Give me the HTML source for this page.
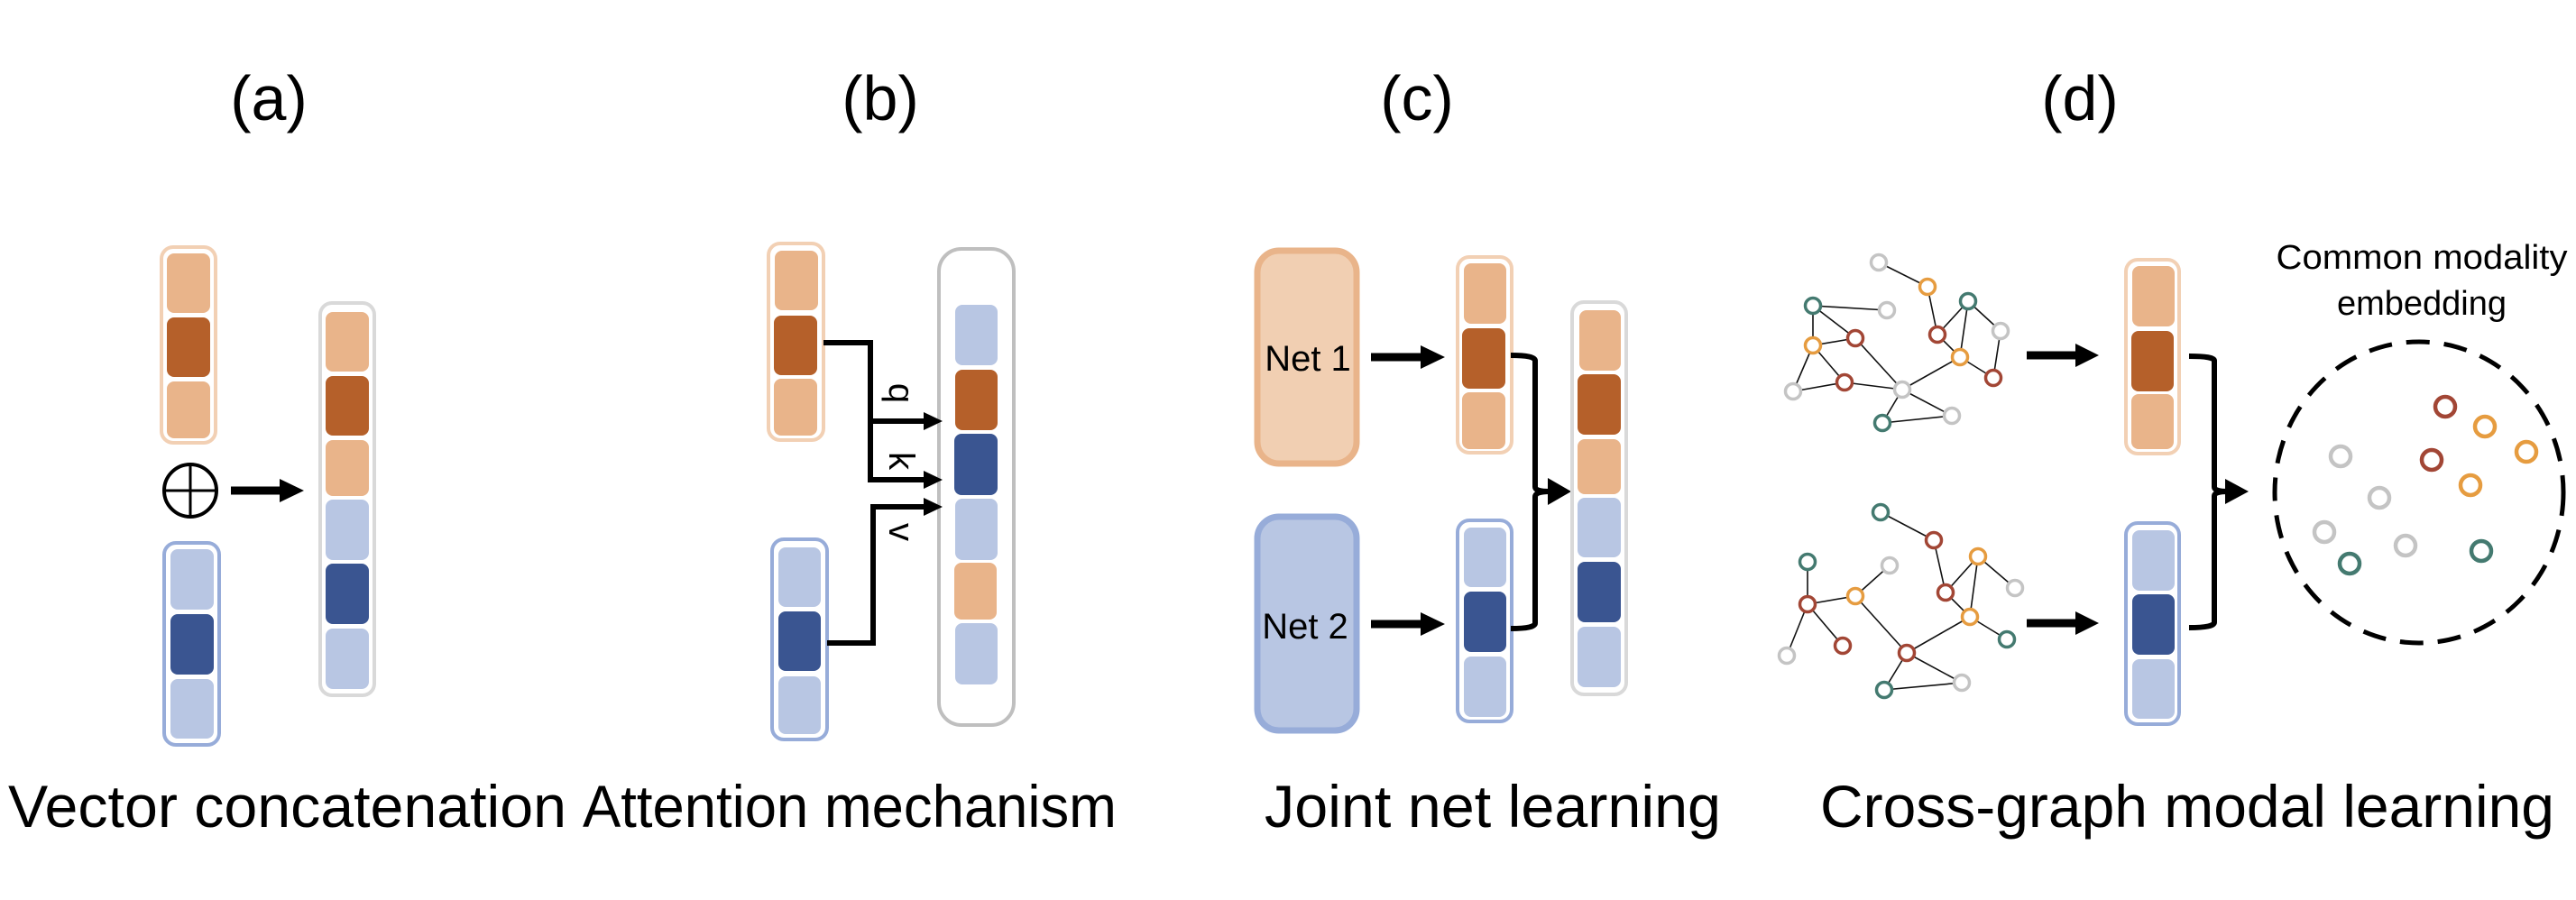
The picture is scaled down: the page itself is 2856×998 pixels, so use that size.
<!DOCTYPE html>
<html><head><meta charset="utf-8"><style>
html,body{margin:0;padding:0;background:#fff;}
svg{display:block;}
text{font-family:"Liberation Sans",sans-serif;}
</style></head><body>
<svg width="2856" height="998" viewBox="0 0 2856 998" xmlns="http://www.w3.org/2000/svg">
<g font-size="70" text-anchor="middle" fill="#000">
<text x="298" y="133">(a)</text>
<text x="976" y="133">(b)</text>
<text x="1571" y="133">(c)</text>
<text x="2306" y="133">(d)</text>
</g>
<g font-size="66" fill="#000">
<text x="9" y="917" textLength="619" lengthAdjust="spacingAndGlyphs">Vector concatenation</text>
<text x="646" y="917" textLength="592" lengthAdjust="spacingAndGlyphs">Attention mechanism</text>
<text x="1402" y="917" textLength="506" lengthAdjust="spacingAndGlyphs">Joint net learning</text>
<text x="2018" y="917" textLength="814" lengthAdjust="spacingAndGlyphs">Cross-graph modal learning</text>
</g>

<!-- (a) -->
<rect x="179" y="274" width="60" height="217" rx="13" fill="#fff" stroke="#f2d0b4" stroke-width="4"/>
<rect x="185" y="281" width="48" height="66" rx="8" fill="#e9b48a"/>
<rect x="185" y="352" width="48" height="66" rx="8" fill="#b5602a"/>
<rect x="185" y="423" width="48" height="63" rx="8" fill="#e9b48a"/>
<rect x="182" y="602" width="61" height="224" rx="13" fill="#fff" stroke="#97acd9" stroke-width="4"/>
<rect x="189" y="609" width="48" height="67" rx="8" fill="#b8c6e3"/>
<rect x="189" y="681" width="48" height="67" rx="8" fill="#3a5591"/>
<rect x="189" y="753" width="48" height="66" rx="8" fill="#b8c6e3"/>
<circle cx="211" cy="544" r="29" fill="none" stroke="#000" stroke-width="4"/>
<line x1="182" y1="544" x2="240" y2="544" stroke="#000" stroke-width="3"/>
<line x1="211" y1="515" x2="211" y2="573" stroke="#000" stroke-width="3"/>
<line x1="256" y1="544" x2="312" y2="544" stroke="#000" stroke-width="9"/>
<polygon points="310,531 337,544 310,557" fill="#000"/>
<rect x="355" y="336" width="60" height="435" rx="13" fill="#fff" stroke="#d9d9d9" stroke-width="4"/>
<rect x="361" y="346" width="48" height="66" rx="8" fill="#e9b48a"/>
<rect x="361" y="417" width="48" height="66" rx="8" fill="#b5602a"/>
<rect x="361" y="488" width="48" height="62" rx="8" fill="#e9b48a"/>
<rect x="361" y="554" width="48" height="67" rx="8" fill="#b8c6e3"/>
<rect x="361" y="625" width="48" height="67" rx="8" fill="#3a5591"/>
<rect x="361" y="697" width="48" height="67" rx="8" fill="#b8c6e3"/>

<!-- (b) -->
<rect x="852" y="270" width="61" height="218" rx="13" fill="#fff" stroke="#f2d0b4" stroke-width="4"/>
<rect x="859" y="278" width="48" height="66" rx="8" fill="#e9b48a"/>
<rect x="858" y="350" width="48" height="66" rx="8" fill="#b5602a"/>
<rect x="858" y="420" width="48" height="63" rx="8" fill="#e9b48a"/>
<rect x="856" y="598" width="61" height="222" rx="13" fill="#fff" stroke="#97acd9" stroke-width="4"/>
<rect x="863" y="607" width="47" height="66" rx="8" fill="#b8c6e3"/>
<rect x="863" y="678" width="47" height="66" rx="8" fill="#3a5591"/>
<rect x="863" y="750" width="47" height="64" rx="8" fill="#b8c6e3"/>
<rect x="1041" y="276" width="83" height="528" rx="25" fill="#fff" stroke="#bfbfbf" stroke-width="4"/>
<rect x="1059" y="338" width="47" height="67" rx="8" fill="#b8c6e3"/>
<rect x="1059" y="410" width="47" height="67" rx="8" fill="#b5602a"/>
<rect x="1058" y="481" width="48" height="68" rx="8" fill="#3a5591"/>
<rect x="1059" y="553" width="47" height="68" rx="8" fill="#b8c6e3"/>
<rect x="1058" y="624" width="47" height="63" rx="8" fill="#e9b48a"/>
<rect x="1059" y="691" width="47" height="68" rx="8" fill="#b8c6e3"/>
<polyline points="913,380 965,380 965,532 1026,532" fill="none" stroke="#000" stroke-width="6"/>
<line x1="965" y1="467" x2="1026" y2="467" stroke="#000" stroke-width="6"/>
<polyline points="917,713 968,713 968,562 1026,562" fill="none" stroke="#000" stroke-width="6"/>
<polygon points="1024,457 1045,467 1024,477" fill="#000"/>
<polygon points="1024,522 1045,532 1024,542" fill="#000"/>
<polygon points="1024,552 1045,562 1024,572" fill="#000"/>
<g font-size="40" fill="#000" text-anchor="middle">
<text transform="translate(986,436) rotate(90)">q</text>
<text transform="translate(986,511) rotate(90)">k</text>
<text transform="translate(986,590) rotate(90)">v</text>
</g>

<!-- (c) -->
<rect x="1394" y="278" width="110" height="236" rx="24" fill="#f1cfb2" stroke="#e9b48a" stroke-width="7"/>
<text x="1450" y="411" font-size="40" text-anchor="middle">Net 1</text>
<rect x="1394" y="573" width="110" height="237" rx="24" fill="#b8c6e3" stroke="#97acd9" stroke-width="7"/>
<text x="1447" y="708" font-size="40" text-anchor="middle">Net 2</text>
<line x1="1520" y1="396" x2="1578" y2="396" stroke="#000" stroke-width="9"/>
<polygon points="1575,383 1602,396 1575,409" fill="#000"/>
<line x1="1520" y1="692" x2="1578" y2="692" stroke="#000" stroke-width="9"/>
<polygon points="1575,679 1602,692 1575,705" fill="#000"/>
<rect x="1616" y="285" width="60" height="217" rx="13" fill="#fff" stroke="#f2d0b4" stroke-width="4"/>
<rect x="1623" y="292" width="47" height="67" rx="8" fill="#e9b48a"/>
<rect x="1621" y="364" width="48" height="67" rx="8" fill="#b5602a"/>
<rect x="1621" y="435" width="48" height="63" rx="8" fill="#e9b48a"/>
<rect x="1616" y="577" width="60" height="223" rx="13" fill="#fff" stroke="#97acd9" stroke-width="4"/>
<rect x="1623" y="585" width="47" height="66" rx="8" fill="#b8c6e3"/>
<rect x="1623" y="656" width="47" height="67" rx="8" fill="#3a5591"/>
<rect x="1623" y="728" width="47" height="67" rx="8" fill="#b8c6e3"/>
<path d="M1675,394 Q1702,394 1702,400 L1702,540 Q1702,545 1718,545" fill="none" stroke="#000" stroke-width="6"/>
<path d="M1675,697 Q1702,697 1702,691 L1702,551 Q1702,545 1718,545" fill="none" stroke="#000" stroke-width="6"/>
<polygon points="1716,530 1742,545 1716,560" fill="#000"/>
<rect x="1743" y="335" width="60" height="435" rx="13" fill="#fff" stroke="#d9d9d9" stroke-width="4"/>
<rect x="1751" y="344" width="46" height="67" rx="8" fill="#e9b48a"/>
<rect x="1749" y="415" width="48" height="67" rx="8" fill="#b5602a"/>
<rect x="1749" y="487" width="48" height="61" rx="8" fill="#e9b48a"/>
<rect x="1749" y="552" width="48" height="66" rx="8" fill="#b8c6e3"/>
<rect x="1749" y="623" width="48" height="67" rx="8" fill="#3a5591"/>
<rect x="1749" y="695" width="48" height="67" rx="8" fill="#b8c6e3"/>

<!-- (d) graph 1 -->
<g stroke="#111" stroke-width="1.6">
<line x1="2083" y1="291" x2="2137" y2="318"/>
<line x1="2137" y1="318" x2="2148" y2="371"/>
<line x1="2010" y1="339" x2="2092" y2="344"/>
<line x1="2010" y1="339" x2="2010" y2="383"/>
<line x1="2010" y1="339" x2="2057" y2="375"/>
<line x1="2010" y1="383" x2="2057" y2="375"/>
<line x1="2010" y1="383" x2="1988" y2="434"/>
<line x1="2010" y1="383" x2="2045" y2="424"/>
<line x1="2057" y1="375" x2="2109" y2="432"/>
<line x1="1988" y1="434" x2="2045" y2="424"/>
<line x1="2045" y1="424" x2="2109" y2="432"/>
<line x1="2109" y1="432" x2="2173" y2="396"/>
<line x1="2109" y1="432" x2="2087" y2="469"/>
<line x1="2109" y1="432" x2="2164" y2="461"/>
<line x1="2087" y1="469" x2="2164" y2="461"/>
<line x1="2182" y1="334" x2="2148" y2="371"/>
<line x1="2182" y1="334" x2="2173" y2="396"/>
<line x1="2182" y1="334" x2="2218" y2="367"/>
<line x1="2148" y1="371" x2="2173" y2="396"/>
<line x1="2173" y1="396" x2="2210" y2="419"/>
<line x1="2218" y1="367" x2="2210" y2="419"/>
</g>
<g fill="#fff" stroke-width="3.5">
<circle cx="2083" cy="291" r="8.5" stroke="#c4c4c4"/>
<circle cx="2137" cy="318" r="8.5" stroke="#e69c40"/>
<circle cx="2010" cy="339" r="8.5" stroke="#447a70"/>
<circle cx="2092" cy="344" r="8.5" stroke="#c4c4c4"/>
<circle cx="2182" cy="334" r="8.5" stroke="#447a70"/>
<circle cx="2148" cy="371" r="8.5" stroke="#a24635"/>
<circle cx="2218" cy="367" r="8.5" stroke="#c4c4c4"/>
<circle cx="2057" cy="375" r="8.5" stroke="#a24635"/>
<circle cx="2010" cy="383" r="8.5" stroke="#e69c40"/>
<circle cx="2173" cy="396" r="8.5" stroke="#e69c40"/>
<circle cx="2210" cy="419" r="8.5" stroke="#a24635"/>
<circle cx="2045" cy="424" r="8.5" stroke="#a24635"/>
<circle cx="1988" cy="434" r="8.5" stroke="#c4c4c4"/>
<circle cx="2109" cy="432" r="8.5" stroke="#c4c4c4"/>
<circle cx="2164" cy="461" r="8.5" stroke="#c4c4c4"/>
<circle cx="2087" cy="469" r="8.5" stroke="#447a70"/>
</g>
<!-- graph 2 -->
<g stroke="#111" stroke-width="1.6">
<line x1="2085" y1="568" x2="2144" y2="599"/>
<line x1="2144" y1="599" x2="2157" y2="657"/>
<line x1="2004" y1="623" x2="2004" y2="670"/>
<line x1="2004" y1="670" x2="2057" y2="661"/>
<line x1="2004" y1="670" x2="1981" y2="727"/>
<line x1="2004" y1="670" x2="2043" y2="716"/>
<line x1="2057" y1="661" x2="2095" y2="627"/>
<line x1="2057" y1="661" x2="2114" y2="724"/>
<line x1="2157" y1="657" x2="2193" y2="617"/>
<line x1="2157" y1="657" x2="2184" y2="684"/>
<line x1="2193" y1="617" x2="2184" y2="684"/>
<line x1="2193" y1="617" x2="2234" y2="652"/>
<line x1="2184" y1="684" x2="2225" y2="709"/>
<line x1="2184" y1="684" x2="2114" y2="724"/>
<line x1="2114" y1="724" x2="2089" y2="765"/>
<line x1="2114" y1="724" x2="2175" y2="757"/>
<line x1="2089" y1="765" x2="2175" y2="757"/>
</g>
<g fill="#fff" stroke-width="3.5">
<circle cx="2085" cy="568" r="8.5" stroke="#447a70"/>
<circle cx="2144" cy="599" r="8.5" stroke="#a24635"/>
<circle cx="2004" cy="623" r="8.5" stroke="#447a70"/>
<circle cx="2095" cy="627" r="8.5" stroke="#c4c4c4"/>
<circle cx="2193" cy="617" r="8.5" stroke="#e69c40"/>
<circle cx="2157" cy="657" r="8.5" stroke="#a24635"/>
<circle cx="2234" cy="652" r="8.5" stroke="#c4c4c4"/>
<circle cx="2004" cy="670" r="8.5" stroke="#a24635"/>
<circle cx="2057" cy="661" r="8.5" stroke="#e69c40"/>
<circle cx="2184" cy="684" r="8.5" stroke="#e69c40"/>
<circle cx="2225" cy="709" r="8.5" stroke="#447a70"/>
<circle cx="2043" cy="716" r="8.5" stroke="#a24635"/>
<circle cx="1981" cy="727" r="8.5" stroke="#c4c4c4"/>
<circle cx="2114" cy="724" r="8.5" stroke="#a24635"/>
<circle cx="2175" cy="757" r="8.5" stroke="#c4c4c4"/>
<circle cx="2089" cy="765" r="8.5" stroke="#447a70"/>
</g>
<line x1="2247" y1="394" x2="2303" y2="394" stroke="#000" stroke-width="9"/>
<polygon points="2301,381 2327,394 2301,407" fill="#000"/>
<line x1="2247" y1="691" x2="2303" y2="691" stroke="#000" stroke-width="9"/>
<polygon points="2301,678 2327,691 2301,704" fill="#000"/>
<rect x="2357" y="288" width="59" height="215" rx="13" fill="#fff" stroke="#f2d0b4" stroke-width="4"/>
<rect x="2364" y="295" width="47" height="67" rx="8" fill="#e9b48a"/>
<rect x="2363" y="367" width="47" height="67" rx="8" fill="#b5602a"/>
<rect x="2363" y="437" width="47" height="61" rx="8" fill="#e9b48a"/>
<rect x="2357" y="580" width="59" height="223" rx="13" fill="#fff" stroke="#97acd9" stroke-width="4"/>
<rect x="2364" y="588" width="47" height="67" rx="8" fill="#b8c6e3"/>
<rect x="2364" y="659" width="47" height="67" rx="8" fill="#3a5591"/>
<rect x="2364" y="731" width="47" height="66" rx="8" fill="#b8c6e3"/>
<path d="M2427,395 Q2455,395 2455,400 L2455,540 Q2455,545 2470,545" fill="none" stroke="#000" stroke-width="6"/>
<path d="M2427,696 Q2455,696 2455,690 L2455,550 Q2455,545 2470,545" fill="none" stroke="#000" stroke-width="6"/>
<polygon points="2467,531 2493,545 2467,559" fill="#000"/>
<text x="2685" y="298" font-size="38" text-anchor="middle" textLength="323" lengthAdjust="spacingAndGlyphs">Common modality</text>
<text x="2685" y="349" font-size="38" text-anchor="middle">embedding</text>
<ellipse cx="2682" cy="546" rx="160" ry="167" fill="none" stroke="#000" stroke-width="5" stroke-dasharray="26,16"/>
<g fill="none" stroke-width="4.5">
<circle cx="2711" cy="451" r="11" stroke="#a24635"/>
<circle cx="2755" cy="473" r="11" stroke="#e69c40"/>
<circle cx="2801" cy="501" r="11" stroke="#e69c40"/>
<circle cx="2595" cy="506" r="11" stroke="#c4c4c4"/>
<circle cx="2696" cy="510" r="11" stroke="#a24635"/>
<circle cx="2739" cy="538" r="11" stroke="#e69c40"/>
<circle cx="2638" cy="552" r="11" stroke="#c4c4c4"/>
<circle cx="2577" cy="590" r="11" stroke="#c4c4c4"/>
<circle cx="2667" cy="605" r="11" stroke="#c4c4c4"/>
<circle cx="2605" cy="625" r="11" stroke="#447a70"/>
<circle cx="2751" cy="611" r="11" stroke="#447a70"/>
</g>
</svg>
</body></html>
